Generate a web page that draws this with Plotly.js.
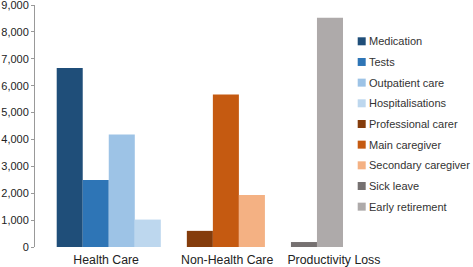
<!DOCTYPE html>
<html>
<head>
<meta charset="utf-8">
<script src="https://cdn.plot.ly/plotly-3.0.1.min.js"></script>
<style>html,body{margin:0;padding:0;background:#fff;}#chart{width:473px;height:267px;}</style>
</head>
<body>
<div id="chart"></div>
<script>
// ---- data ----
var categories = ['Health Care', 'Non-Health Care', 'Productivity Loss'];
var healthCareSeries = ['Medication', 'Tests', 'Outpatient care', 'Hospitalisations'];
var healthCareValues = [6660, 2490, 4180, 1020];
var nonHealthSeries = ['Professional carer', 'Main caregiver', 'Secondary caregiver'];
var nonHealthValues = [600, 5670, 1930];
var productivitySeries = ['Sick leave', 'Early retirement'];
var productivityValues = [185, 8530];
var yTickVals = [0, 1000, 2000, 3000, 4000, 5000, 6000, 7000, 8000, 9000];

// ---- styles ----
var colors = ['#1f4e79', '#2e75b6', '#9dc3e6', '#bdd7ee', '#843c0c', '#c55a11', '#f4b183', '#767171', '#aeaaaa'];

var groups = [
  {names: healthCareSeries, values: healthCareValues},
  {names: nonHealthSeries, values: nonHealthValues},
  {names: productivitySeries, values: productivityValues}
];

var traces = [];
var slot = 0, ci = 0;
var groupCenters = [];
groups.forEach(function (g) {
  var start = slot;
  g.names.forEach(function (n, i) {
    traces.push({
      type: 'bar',
      name: n,
      x: [slot + 0.5],
      y: [g.values[i]],
      width: [1],
      marker: {color: colors[ci], line: {width: 0}},
      showlegend: false,
      hoverinfo: 'name+y'
    });
    slot++; ci++;
  });
  groupCenters.push((start + slot) / 2);
  slot++; // gap
});

// legend drawn manually
var L = 35, R = 130, T = 5, B = 20, Wd = 473, Ht = 267;
var pw = Wd - L - R, ph = Ht - T - B;
function px2x(p) { return (p - L) / pw; }
function py2y(p) { return 1 - (p - T) / ph; }
var shapes = [], annotations = [];
var allNames = healthCareSeries.concat(nonHealthSeries, productivitySeries);
allNames.forEach(function (n, i) {
  var cy = 41.3 + 20.67 * i;
  shapes.push({type: 'rect', xref: 'paper', yref: 'paper',
    x0: px2x(357.7), x1: px2x(365.7), y0: py2y(cy - 4), y1: py2y(cy + 4),
    fillcolor: colors[i], line: {width: 0}});
  annotations.push({xref: 'paper', yref: 'paper', x: px2x(366.5), y: py2y(cy),
    xanchor: 'left', yanchor: 'middle', showarrow: false, text: n,
    font: {family: 'Liberation Sans, Arial, sans-serif', size: 11, color: '#333'}});
});

var layout = {
  width: Wd, height: Ht,
  margin: {l: L, r: R, t: T, b: B, pad: 0},
  paper_bgcolor: '#fff', plot_bgcolor: '#fff',
  barmode: 'overlay',
  showlegend: false,
  font: {family: 'Liberation Sans, Arial, sans-serif', color: '#222'},
  xaxis: {
    type: 'linear', range: [-0.834, 11],
    showgrid: false, zeroline: false, showline: false, ticks: '',
    tickmode: 'array',
    tickvals: [groupCenters[0] - 0.1, groupCenters[1] + 0.05, groupCenters[2] + 0.65],
    ticktext: categories,
    ticklabelstandoff: 4,
    ticklabeloverflow: 'allow',
    tickfont: {size: 12.3, color: '#222'}
  },
  yaxis: {
    range: [0, 9000], tickmode: 'array', tickvals: yTickVals,
    tickformat: ',d', showgrid: false, zeroline: false,
    showline: true, linecolor: '#999', linewidth: 1,
    ticks: 'outside', ticklen: 3, tickcolor: '#999', tickwidth: 1,
    ticklabeloverflow: 'allow',
    tickfont: {size: 11, color: '#222'}
  },
  shapes: shapes,
  annotations: annotations
};

Plotly.newPlot('chart', traces, layout, {staticPlot: true, displayModeBar: false});
</script>
</body>
</html>
